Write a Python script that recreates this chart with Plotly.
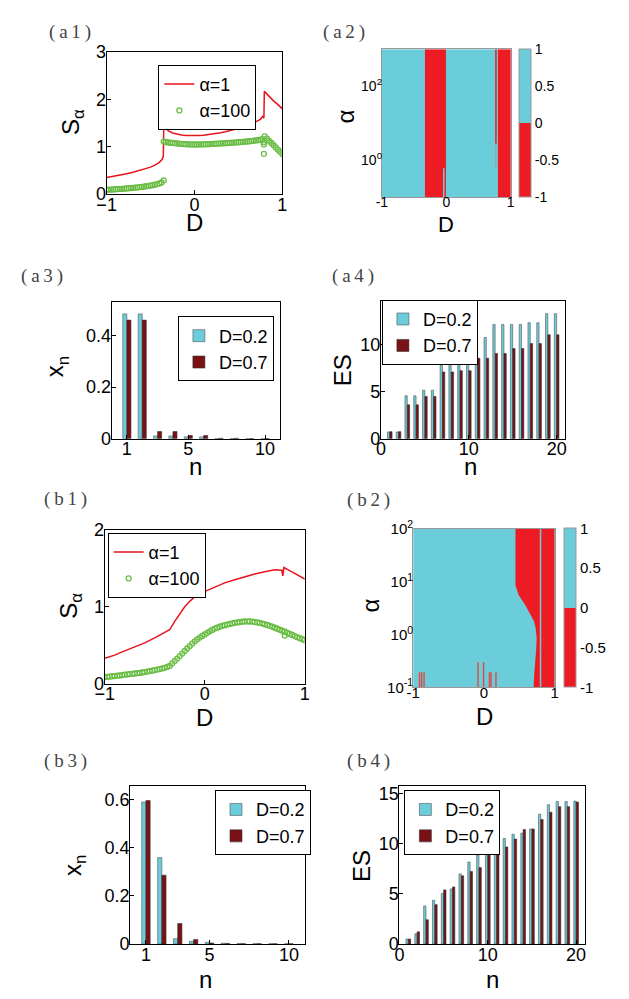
import numpy as np
import plotly.graph_objects as go

W, H = 629, 999
FONT = "Liberation Sans, Arial, sans-serif"
SERIF = "Liberation Serif, DejaVu Serif, serif"
CYAN = "#6BCCDA"
RED_HM = "#ED1C24"
RED_LINE = "#E8141C"
DARKRED = "#7A1116"
GREEN = "#6ABD45"

# ---------------- data ----------------
# (a1) S_alpha vs D
a1_red_D = [-1.0, -0.9, -0.8, -0.7, -0.6, -0.5, -0.45, -0.4, -0.37, -0.355,
            -0.35, -0.33, -0.3, -0.25, -0.2, -0.15, -0.1, -0.05, 0.0, 0.05,
            0.1, 0.15, 0.2, 0.25, 0.3, 0.35, 0.4, 0.45, 0.5, 0.55,
            0.6, 0.65, 0.7, 0.75, 0.78, 0.79, 0.795, 0.85, 0.9, 0.95, 1.0]
a1_red_S = [0.35, 0.38, 0.42, 0.46, 0.51, 0.57, 0.61, 0.67, 0.73, 0.79,
            1.42, 1.38, 1.34, 1.29, 1.265, 1.25, 1.24, 1.235, 1.235, 1.24,
            1.245, 1.255, 1.265, 1.28, 1.295, 1.315, 1.335, 1.36, 1.385, 1.41,
            1.44, 1.475, 1.53, 1.58, 1.65, 1.60, 2.17, 2.06, 1.97, 1.89, 1.80]
a1_green_D = [-1.000, -0.975, -0.950, -0.925, -0.900, -0.875, -0.850, -0.825, -0.800, -0.775,
              -0.750, -0.725, -0.700, -0.675, -0.650, -0.625, -0.600, -0.575, -0.550, -0.525,
              -0.500, -0.475, -0.450, -0.425, -0.400, -0.375, -0.350,
              -0.350, -0.325, -0.300, -0.275, -0.250, -0.225, -0.200, -0.175, -0.150, -0.125,
              -0.100, -0.075, -0.050, -0.025, 0.000, 0.025, 0.050, 0.075, 0.100, 0.125,
              0.150, 0.175, 0.200, 0.225, 0.250, 0.275, 0.300, 0.325, 0.350, 0.375,
              0.400, 0.425, 0.450, 0.475, 0.500, 0.525, 0.550, 0.575, 0.600, 0.625,
              0.650, 0.675, 0.700, 0.725, 0.750, 0.775, 0.800, 0.825, 0.850, 0.875,
              0.900, 0.925, 0.950, 0.975, 1.000,
              0.790, 0.790, 0.790]
a1_green_S = [0.090, 0.093, 0.096, 0.099, 0.102, 0.105, 0.108, 0.111, 0.115, 0.119,
              0.123, 0.127, 0.131, 0.136, 0.141, 0.146, 0.152, 0.158, 0.165, 0.172,
              0.180, 0.189, 0.199, 0.211, 0.226, 0.245, 0.290,
              1.110, 1.100, 1.090, 1.085, 1.080, 1.075, 1.070, 1.065, 1.060, 1.057,
              1.054, 1.052, 1.050, 1.049, 1.048, 1.048, 1.049, 1.050, 1.051, 1.053,
              1.055, 1.057, 1.060, 1.062, 1.065, 1.068, 1.070, 1.073, 1.076, 1.079,
              1.082, 1.085, 1.088, 1.092, 1.095, 1.099, 1.103, 1.107, 1.111, 1.116,
              1.121, 1.127, 1.133, 1.140, 1.148, 1.160, 1.220, 1.173, 1.126, 1.079,
              1.032, 0.985, 0.939, 0.892, 0.845,
              1.100, 1.050, 0.850]

# (a2) sign map over (D, alpha)
a2_D_edges = [-1.0, -0.333, 0.0, 0.80, 1.0]
a2_sign = [1, -1, 1, -1]
a2_alpha_range = [0.1, 1000.0]
a2_line_D = [-0.04, 0.77, 0.77]
a2_line_alpha_lo = [0.1, 2.75, 0.6]
a2_line_alpha_hi = [0.6, 1000.0, 2.75]
a2_line_sign = [1, -1, 0]

# (a3) x_n bars
n10 = [1, 2, 3, 4, 5, 6, 7, 8, 9, 10]
a3_c = [0.483, 0.483, 0.011, 0.011, 0.0075, 0.0075, 0.001, 0.001, 0.0005, 0.0005]
a3_r = [0.459, 0.459, 0.028, 0.028, 0.0126, 0.0126, 0.002, 0.002, 0.001, 0.001]

# (a4) ES bars
n20 = list(range(1, 21))
a4_c = [0.72, 0.72, 4.55, 4.55, 5.14, 5.14, 7.76, 7.76, 9.59, 9.59,
        10.72, 10.72, 12.10, 12.10, 12.10, 12.10, 12.28, 12.28, 13.24, 13.24]
a4_r = [0.76, 0.76, 3.59, 3.59, 4.48, 4.48, 7.07, 7.07, 7.20, 7.20,
        8.52, 8.52, 9.03, 9.03, 9.55, 9.55, 10.07, 10.07, 11.00, 11.00]

# (b1) S_alpha vs D
b1_red_D = [-1.0, -0.9, -0.8, -0.7, -0.6, -0.5, -0.4, -0.36, -0.35, -0.3,
            -0.25, -0.2, -0.15, -0.1, -0.05, 0.0, 0.1, 0.2, 0.3, 0.4,
            0.5, 0.6, 0.7, 0.77, 0.78, 0.785, 0.79, 0.85, 0.9, 0.95, 1.0]
b1_red_S = [0.33, 0.37, 0.425, 0.475, 0.53, 0.595, 0.67, 0.695, 0.70, 0.81,
            0.91, 1.0, 1.07, 1.13, 1.17, 1.20, 1.26, 1.31, 1.35, 1.39,
            1.425, 1.455, 1.48, 1.475, 1.40, 1.44, 1.51, 1.47, 1.43, 1.395, 1.36]
b1_green_D = [-1.000, -0.975, -0.950, -0.925, -0.900, -0.875, -0.850, -0.825, -0.800, -0.775,
              -0.750, -0.725, -0.700, -0.675, -0.650, -0.625, -0.600, -0.575, -0.550, -0.525,
              -0.500, -0.475, -0.450, -0.425, -0.400, -0.375, -0.350, -0.325, -0.300, -0.275,
              -0.250, -0.225, -0.200, -0.175, -0.150, -0.125, -0.100, -0.075, -0.050, -0.025,
              0.000, 0.025, 0.050, 0.075, 0.100, 0.125, 0.150, 0.175, 0.200, 0.225,
              0.250, 0.275, 0.300, 0.325, 0.350, 0.375, 0.400, 0.425, 0.450, 0.475,
              0.500, 0.525, 0.550, 0.575, 0.600, 0.625, 0.650, 0.675, 0.700, 0.725,
              0.750, 0.775, 0.800, 0.825, 0.850, 0.875, 0.900, 0.925, 0.950, 0.975,
              1.000, 0.800]
b1_green_S = [0.085, 0.088, 0.091, 0.095, 0.098, 0.102, 0.105, 0.110, 0.115, 0.119,
              0.123, 0.127, 0.131, 0.135, 0.139, 0.144, 0.150, 0.156, 0.162, 0.168,
              0.175, 0.182, 0.189, 0.197, 0.205, 0.216, 0.230, 0.262, 0.295, 0.325,
              0.357, 0.390, 0.424, 0.456, 0.488, 0.520, 0.550, 0.575, 0.598, 0.620,
              0.640, 0.660, 0.680, 0.698, 0.715, 0.727, 0.739, 0.750, 0.760, 0.768,
              0.776, 0.783, 0.790, 0.795, 0.800, 0.805, 0.808, 0.809, 0.809, 0.806,
              0.800, 0.795, 0.789, 0.781, 0.772, 0.762, 0.751, 0.739, 0.726, 0.713,
              0.700, 0.687, 0.674, 0.660, 0.646, 0.632, 0.618, 0.604, 0.591, 0.578,
              0.565, 0.625]

# (b2) sign map: boundary of the negative region
b2_bnd_D = [0.446, 0.446, 0.492, 0.584, 0.662, 0.708, 0.731, 0.745, 0.740, 0.726, 0.717, 0.708, 0.703]
b2_bnd_alpha = [100.0, 8.5, 5.56, 3.63, 2.34, 1.78, 1.34, 0.87, 0.57, 0.37, 0.242, 0.158, 0.1]
b2_alpha_range = [0.1, 100.0]
b2_gap_D = 0.80
b2_spike_D = [-0.91, -0.88, -0.846, -0.083, -0.005, 0.078, 0.101, 0.170]
b2_spike_alpha = [0.195, 0.195, 0.195, 0.30, 0.30, 0.195, 0.195, 0.195]

# (b3) x_n bars
b3_c = [0.590, 0.359, 0.022, 0.011, 0.007, 0.003, 0.002, 0.001, 0.001, 0.001]
b3_r = [0.596, 0.286, 0.085, 0.019, 0.004, 0.002, 0.001, 0.001, 0.0005, 0.0005]

# (b4) ES bars
b4_c = [0.49, 1.02, 3.80, 4.36, 5.04, 5.50, 7.00, 8.19, 8.90, 9.76,
        10.54, 10.54, 10.97, 11.07, 11.49, 12.97, 13.92, 14.24, 14.24, 14.28]
b4_r = [0.49, 1.21, 2.42, 3.93, 5.40, 5.70, 6.81, 7.24, 7.63, 9.14,
        9.20, 9.69, 10.48, 11.43, 11.49, 12.44, 13.16, 13.72, 13.72, 14.18]

# ---------------- figure ----------------
fig = go.Figure()
SIGN_SCALE = [[0, RED_HM], [0.5, RED_HM], [0.5, CYAN], [1, CYAN]]
SIGN_COLOR = {1: CYAN, -1: RED_HM, 0: "#9AA9AC"}
GMARK = dict(symbol="circle-open", size=5, color=GREEN, line=dict(width=1.3))

# a1
fig.add_trace(go.Scatter(x=a1_red_D, y=a1_red_S, mode="lines", name="α=1",
                         line=dict(color=RED_LINE, width=1.5), legend="legend",
                         xaxis="x", yaxis="y"))
fig.add_trace(go.Scatter(x=a1_green_D, y=a1_green_S, mode="markers", name="α=100",
                         marker=GMARK, legend="legend", xaxis="x", yaxis="y"))

# a2
fig.add_trace(go.Heatmap(x=a2_D_edges, y=np.log10(a2_alpha_range), z=[a2_sign],
                         colorscale=SIGN_SCALE, zmin=-1, zmax=1, xaxis="x2", yaxis="y2",
                         hoverinfo="skip",
                         colorbar=dict(x=521 / W, xanchor="left", y=1 - 190 / H, yanchor="bottom",
                                       len=151 / H, lenmode="fraction", thickness=12, xpad=0, ypad=0,
                                       outlinewidth=1, outlinecolor="#999",
                                       tickvals=[-1, -0.5, 0, 0.5, 1], ticktext=["-1", "-0.5", "0", "0.5", "1"],
                                       ticks="", tickfont=dict(family=FONT, size=14, color="black"))))
for d, lo, hi, s in zip(a2_line_D, a2_line_alpha_lo, a2_line_alpha_hi, a2_line_sign):
    fig.add_trace(go.Scatter(x=[d, d], y=np.log10([lo, hi]), mode="lines", showlegend=False,
                             line=dict(color=SIGN_COLOR[s], width=1.5), xaxis="x2", yaxis="y2",
                             hoverinfo="skip"))

# a3
fig.add_trace(go.Bar(x=n10, y=a3_c, name="D=0.2", marker=dict(color=CYAN, line=dict(color="#555", width=0.6)),
                     legend="legend2", xaxis="x3", yaxis="y3"))
fig.add_trace(go.Bar(x=n10, y=a3_r, name="D=0.7", marker=dict(color=DARKRED, line=dict(color="#333", width=0.6)),
                     legend="legend2", xaxis="x3", yaxis="y3"))

# a4
fig.add_trace(go.Bar(x=n20, y=a4_c, name="D=0.2", marker=dict(color=CYAN, line=dict(color="#555", width=0.6)),
                     legend="legend3", xaxis="x4", yaxis="y4"))
fig.add_trace(go.Bar(x=n20, y=a4_r, name="D=0.7", marker=dict(color=DARKRED, line=dict(color="#333", width=0.6)),
                     legend="legend3", xaxis="x4", yaxis="y4"))

# b1
fig.add_trace(go.Scatter(x=b1_red_D, y=b1_red_S, mode="lines", name="α=1",
                         line=dict(color=RED_LINE, width=1.5), legend="legend4",
                         xaxis="x5", yaxis="y5"))
fig.add_trace(go.Scatter(x=b1_green_D, y=b1_green_S, mode="markers", name="α=100",
                         marker=GMARK, legend="legend4", xaxis="x5", yaxis="y5"))

# b2
fig.add_trace(go.Heatmap(x=[-1, 1], y=np.log10(b2_alpha_range), z=[[1]],
                         colorscale=SIGN_SCALE, zmin=-1, zmax=1, xaxis="x6", yaxis="y6",
                         hoverinfo="skip",
                         colorbar=dict(x=568 / W, xanchor="left", y=1 - 691 / H, yanchor="bottom",
                                       len=162 / H, lenmode="fraction", thickness=12, xpad=0, ypad=0,
                                       outlinewidth=1, outlinecolor="#999",
                                       tickvals=[-1, -0.5, 0, 0.5, 1], ticktext=["-1", "-0.5", "0", "0.5", "1"],
                                       ticks="", tickfont=dict(family=FONT, size=15, color="black"))))
poly_x = [1.0] + list(b2_bnd_D) + [1.0]
poly_y = [np.log10(b2_alpha_range[1])] + list(np.log10(b2_bnd_alpha)) + [np.log10(b2_alpha_range[0])]
fig.add_trace(go.Scatter(x=poly_x, y=poly_y, fill="toself", fillcolor=RED_HM, mode="lines",
                         line=dict(width=0, color=RED_HM), showlegend=False, hoverinfo="skip",
                         xaxis="x6", yaxis="y6"))
fig.add_trace(go.Scatter(x=[b2_gap_D, b2_gap_D], y=np.log10(b2_alpha_range), mode="lines",
                         line=dict(color=CYAN, width=1.5), showlegend=False, hoverinfo="skip",
                         xaxis="x6", yaxis="y6"))
sx, sy = [], []
for d, a in zip(b2_spike_D, b2_spike_alpha):
    sx += [d, d, None]
    sy += [np.log10(b2_alpha_range[0]), np.log10(a), None]
fig.add_trace(go.Scatter(x=sx, y=sy, mode="lines", line=dict(color="#E8403A", width=1.3),
                         showlegend=False, hoverinfo="skip", xaxis="x6", yaxis="y6"))

# b3
fig.add_trace(go.Bar(x=n10, y=b3_c, name="D=0.2", marker=dict(color=CYAN, line=dict(color="#555", width=0.6)),
                     legend="legend5", xaxis="x7", yaxis="y7"))
fig.add_trace(go.Bar(x=n10, y=b3_r, name="D=0.7", marker=dict(color=DARKRED, line=dict(color="#333", width=0.6)),
                     legend="legend5", xaxis="x7", yaxis="y7"))

# b4
fig.add_trace(go.Bar(x=n20, y=b4_c, name="D=0.2", marker=dict(color=CYAN, line=dict(color="#555", width=0.6)),
                     legend="legend6", xaxis="x8", yaxis="y8"))
fig.add_trace(go.Bar(x=n20, y=b4_r, name="D=0.7", marker=dict(color=DARKRED, line=dict(color="#333", width=0.6)),
                     legend="legend6", xaxis="x8", yaxis="y8"))

# ---------------- layout ----------------
def xd(x0, x1):
    return [x0 / W, x1 / W]


def yd(y0, y1):
    return [1 - y1 / H, 1 - y0 / H]


def ax(dom, rng, tv, tt=None, size=18, anchor=None, heat=False, kind="x"):
    d = dict(domain=dom, range=rng, tickvals=tv, showline=True, mirror=True,
             linecolor="#999" if heat else "black", linewidth=1,
             ticks="" if heat else "inside", ticklen=4, tickcolor="black",
             showgrid=False, zeroline=False, fixedrange=True, anchor=anchor,
             tickfont=dict(family=FONT, size=size, color="black"))
    if tt is not None:
        d["ticktext"] = tt
    d["_standoff"] = (-8 if heat else -6) if kind == "x" else -4
    return d


def leg(x, y):
    return dict(x=x / W, y=1 - y / H, xanchor="left", yanchor="top", bgcolor="white",
                bordercolor="black", borderwidth=1, itemwidth=30, tracegroupgap=0,
                font=dict(family=FONT, size=18, color="black"))


axes = dict(
    xaxis=ax(xd(99, 279), [-1, 1], [-1, 0, 1], anchor="y"),
    yaxis=ax(yd(42, 187), [0, 3], [0, 1, 2, 3], anchor="x", kind="y"),
    xaxis2=ax(xd(381, 513), [-1, 1], [-1, 0, 1], ["-1", "0", "1"], size=14, anchor="y2", heat=True),
    yaxis2=ax(yd(39, 190), [-1, 3], [0, 2], ["10<sup>0</sup>", "10<sup>2</sup>"], size=14, anchor="x2",
              heat=True, kind="y"),
    xaxis3=ax(xd(104, 277), [0, 11], [1, 5, 10], anchor="y3"),
    yaxis3=ax(yd(297, 437), [0, 0.53], [0, 0.2, 0.4], ["0", "0.2", "0.4"], anchor="x3", kind="y"),
    xaxis4=ax(xd(380, 569), [0, 21], [0, 10, 20], anchor="y4"),
    yaxis4=ax(yd(296, 437), [0, 14.6], [0, 5, 10], anchor="x4", kind="y"),
    xaxis5=ax(xd(97, 302), [-1, 1], [-1, 0, 1], anchor="y5"),
    yaxis5=ax(yd(530, 687), [0, 2], [0, 1, 2], anchor="x5", kind="y"),
    xaxis6=ax(xd(413, 558), [-1, 1], [-1, 0, 1], ["-1", "0", "1"], size=15, anchor="y6", heat=True),
    yaxis6=ax(yd(529, 691), [-1, 2], [-1, 0, 1, 2],
              ["10<sup>-1</sup>", "10<sup>0</sup>", "10<sup>1</sup>", "10<sup>2</sup>"], size=15,
              anchor="x6", heat=True, kind="y"),
    xaxis7=ax(xd(123, 302), [0, 11], [1, 5, 10], anchor="y7"),
    yaxis7=ax(yd(792, 953), [0, 0.655], [0, 0.2, 0.4, 0.6], ["0", "0.2", "0.4", "0.6"], anchor="x7", kind="y"),
    xaxis8=ax(xd(399, 589), [0, 21], [0, 10, 20], anchor="y8"),
    yaxis8=ax(yd(792, 953), [0, 15.75], [0, 5, 10, 15], anchor="x8", kind="y"),
)
standoffs = {k: v.pop("_standoff") for k, v in axes.items()}

fig.update_layout(
    width=W, height=H, margin=dict(l=0, r=0, t=0, b=0),
    paper_bgcolor="white", plot_bgcolor="white",
    barmode="group", bargap=0.47, bargroupgap=0, hovermode=False,
    legend=leg(152, 55),
    legend2=leg(172, 312),
    legend3=leg(381, 295),
    legend4=leg(100, 533),
    legend5=leg(210, 796),
    legend6=leg(404, 796),
    **axes,
)

# pull tick labels closer to the axes (if negative standoff is accepted)
for k, s in standoffs.items():
    try:
        fig.layout[k].ticklabelstandoff = s
    except Exception:
        pass

# axis titles and panel labels
ann = []


def title(text, x, y, size=24, angle=0):
    ann.append(dict(text=text, x=x / W, y=1 - y / H, xref="paper", yref="paper", showarrow=False,
                    xanchor="center", yanchor="middle", textangle=angle,
                    font=dict(family=FONT, size=size, color="black")))


title("D", 189, 216)
title("S<sub>α</sub>", 64, 113, angle=-90)
title("D", 447, 218, size=22)
title("α", 344, 108, size=24, angle=-90)
title("n", 190, 465)
title("x<sub>n</sub>", 48, 363, angle=-90)
title("n", 472, 465)
title("ES", 340, 367, angle=-90)
title("D", 199, 722)
title("S<sub>α</sub>", 62, 608, angle=-90)
title("D", 486, 721, size=24)
title("α", 369, 607, size=24, angle=-90)
title("n", 200, 989)
title("x<sub>n</sub>", 66, 873, angle=-90)
title("n", 494, 989)
title("ES", 360, 873, angle=-90)

for lab, x, y in [("a1", 61, 21), ("a2", 342, 21), ("a3", 33, 271), ("a4", 351, 271),
                  ("b1", 57, 498), ("b2", 367, 499), ("b3", 57, 766), ("b4", 367, 766)]:
    ann.append(dict(text="(\u2009" + lab[0] + "\u2009" + lab[1] + "\u2009)", x=x / W, y=1 - y / H,
                    xref="paper", yref="paper", showarrow=False, xanchor="center", yanchor="middle",
                    font=dict(family=SERIF, size=19, color="#444")))

fig.update_layout(annotations=ann)
fig.write_html("out.html")
